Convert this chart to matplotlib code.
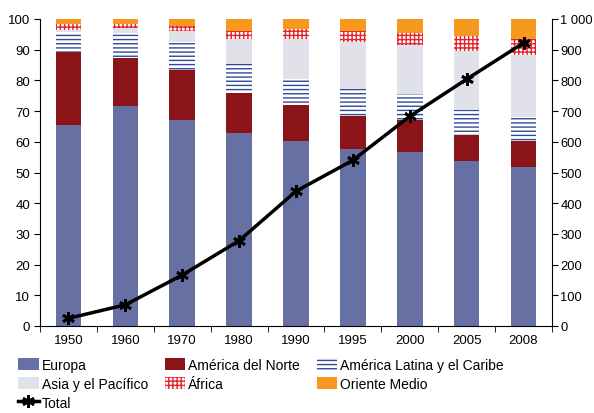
import matplotlib
matplotlib.use("Agg")
import matplotlib.pyplot as plt
import matplotlib.ticker as ticker
import numpy as np

plt.rcParams["font.family"] = ["Liberation Sans", "DejaVu Sans"]
plt.rcParams["hatch.linewidth"] = 1.0

# Data (shares in %, total in millions)
years = ["1950", "1960", "1970", "1980", "1990", "1995", "2000", "2005", "2008"]
europa = [65.6, 71.5, 67.2, 63.0, 60.1, 57.8, 56.6, 53.7, 51.9]
america_norte = [23.7, 15.9, 16.2, 13.0, 12.0, 10.5, 10.4, 8.6, 8.3]
america_latina = [6.5, 8.2, 9.2, 9.3, 8.3, 9.0, 8.6, 8.2, 7.9]
asia_pacifico = [0.6, 1.5, 3.6, 8.2, 13.0, 15.3, 16.0, 19.1, 20.2]
africa = [2.1, 1.3, 1.5, 2.6, 3.4, 3.6, 4.0, 4.7, 5.1]
oriente_medio = [1.5, 1.6, 2.3, 3.9, 3.2, 3.8, 4.4, 5.7, 6.6]
total = [25, 69, 166, 278, 439, 540, 683, 804, 922]

series = [
    ("Europa", europa, dict(facecolor="#6670a3")),
    ("América del Norte", america_norte, dict(facecolor="#8b1419")),
    ("América Latina y el Caribe", america_latina,
     dict(facecolor="white", edgecolor="#2f4a9a", hatch="----")),
    ("Asia y el Pacífico", asia_pacifico, dict(facecolor="#e1e1ea")),
    ("África", africa, dict(facecolor="white", edgecolor="#e8202a", hatch="++++")),
    ("Oriente Medio", oriente_medio, dict(facecolor="#f5991f")),
]

fig = plt.figure(figsize=(5.94, 4.14), dpi=100)
ax = fig.add_axes([40 / 594, 1 - 327 / 414, 512 / 594, 307 / 414])

x = np.arange(len(years))
bottom = np.zeros(len(years))
handles = {}
for name, vals, style in series:
    bars = ax.bar(x, vals, 0.45, bottom=bottom, linewidth=0, label=name, **style)
    bottom += np.array(vals)
    handles[name] = bars

ax.set_xlim(-0.5, len(years) - 0.5)
ax.set_ylim(0, 100)
ax.set_xticks(x)
ax.set_xticklabels(years, fontsize=9.5)
ax.set_xticks(np.arange(-0.5, len(years)), minor=True)
ax.tick_params(axis="x", which="major", length=0, pad=6)
ax.tick_params(axis="x", which="minor", length=4, direction="out")
ax.yaxis.set_major_locator(ticker.MultipleLocator(10))
ax.tick_params(axis="y", length=4, direction="out", labelsize=9.5, pad=3)
ax.spines[["top", "right"]].set_visible(False)

ax2 = ax.twinx()
line, = ax2.plot(x, total, color="black", lw=2.5, marker=(6, 2, 0), ms=9, mew=2,
                 label="Total")
ax2.set_ylim(0, 1000)
ax2.yaxis.set_major_locator(ticker.MultipleLocator(100))
ax2.yaxis.set_major_formatter(ticker.FuncFormatter(
    lambda v, p: f"{int(v):,}".replace(",", " ")))
ax2.tick_params(axis="y", length=4, direction="out", labelsize=9.3, pad=2)
ax2.spines[["top", "left", "bottom"]].set_visible(False)

order = ["Europa", "Asia y el Pacífico", "Total", "América del Norte", "África",
         "América Latina y el Caribe", "Oriente Medio"]
h = [line if n == "Total" else handles[n] for n in order]
fig.legend(h, order, loc="upper left", bbox_to_anchor=(18 / 594, 1 - 359 / 414),
           ncol=3, frameon=False, fontsize=10, borderpad=0, borderaxespad=0,
           handlelength=1.5, handleheight=0.9, handletextpad=0.2,
           labelspacing=0.35, columnspacing=1.2)

fig.savefig("out.png", dpi=100)
